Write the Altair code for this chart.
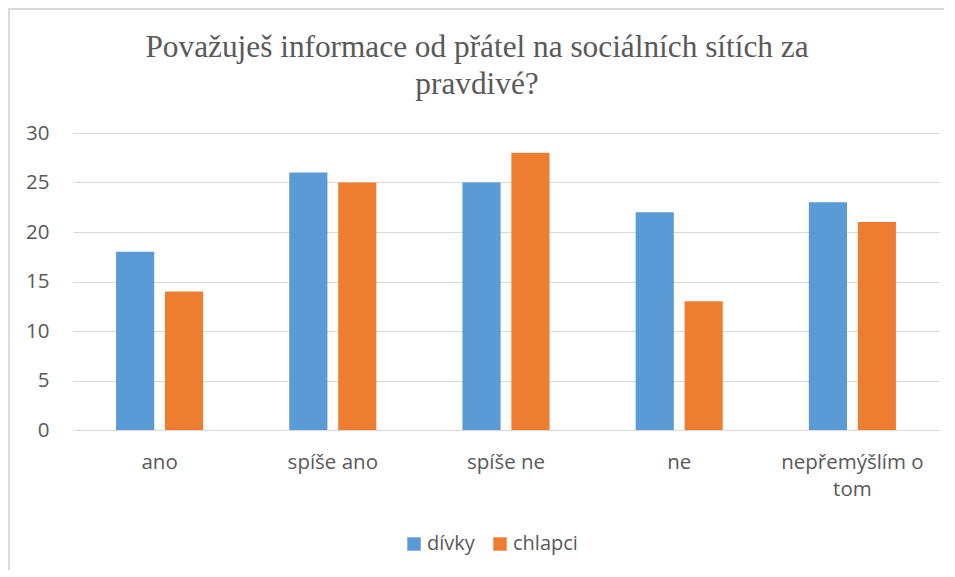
import altair as alt
import pandas as pd

categories = ["ano", "spíše ano", "spíše ne", "ne", "nepřemýšlím o tom"]
series = ["dívky", "chlapci"]
divky = [18, 26, 25, 22, 23]
chlapci = [14, 25, 28, 13, 21]
colors = ["#5B9BD5", "#ED7D31"]
y_ticks = [0, 5, 10, 15, 20, 25, 30]
title_lines = ["Považuješ informace od přátel na sociálních sítích za", "pravdivé?"]

rows = []
for c, d, ch in zip(categories, divky, chlapci):
    rows.append({"kategorie": c, "pohlaví": "dívky", "počet": d})
    rows.append({"kategorie": c, "pohlaví": "chlapci", "počet": ch})
df = pd.DataFrame(rows)

W, H = 866, 297
SANS = "Open Sans"
GRAY = "#595959"
GRID = "#D9D9D9"

bars = alt.Chart(df).mark_bar().encode(
    x=alt.X(
        "kategorie:N",
        sort=categories,
        scale=alt.Scale(paddingInner=0, paddingOuter=0),
        axis=alt.Axis(
            title=None,
            labelAngle=0,
            ticks=False,
            domain=False,
            grid=False,
            labelFont=SANS,
            labelFontSize=20.5,
            labelColor=GRAY,
            labelPadding=22,
            labelLineHeight=27,
            labelExpr="datum.value == 'nepřemýšlím o tom' ? ['nepřemýšlím o', 'tom'] : datum.value",
        ),
    ),
    xOffset=alt.XOffset(
        "pohlaví:N",
        sort=series,
        scale=alt.Scale(paddingInner=0.22, paddingOuter=0.88),
    ),
    y=alt.Y(
        "počet:Q",
        scale=alt.Scale(domain=[0, 30], nice=False),
        axis=alt.Axis(
            title=None,
            values=y_ticks,
            ticks=False,
            domain=False,
            grid=True,
            gridColor=GRID,
            gridWidth=1,
            labelFont=SANS,
            labelFontSize=20.5,
            labelColor=GRAY,
            labelPadding=24,
        ),
    ),
    color=alt.Color(
        "pohlaví:N",
        sort=series,
        scale=alt.Scale(domain=series, range=colors),
        legend=alt.Legend(
            title=None,
            orient="none",
            direction="horizontal",
            legendX=331,
            legendY=401,
            symbolType="square",
            symbolSize=180,
            symbolStrokeWidth=0,
            symbolOpacity=1,
            labelFont=SANS,
            labelFontSize=20,
            labelColor=GRAY,
            labelOffset=3,
            columnPadding=15,
            padding=0,
        ),
    ),
)

frame = alt.Chart(df).mark_rect(fill=None, stroke=GRID, strokeWidth=1.5).encode(
    x=alt.value(-64.5), x2=alt.value(W + 40), y=alt.value(-124.5), y2=alt.value(H + 200)
)

chart = alt.layer(frame, bars).properties(
    width=W,
    height=H,
    background="white",
    autosize=alt.AutoSizeParams(type="none"),
    padding={"left": 65, "top": 125, "right": 5, "bottom": 140},
    title=alt.TitleParams(
        title_lines,
        font="'Liberation Serif', 'Times New Roman', Times, serif",
        fontSize=31.3,
        fontWeight="normal",
        color=GRAY,
        anchor="middle",
        frame="group",
        dx=-29,
        dy=123,
        offset=30,
        lineHeight=37,
    ),
).configure_view(stroke=None)

chart.save("out.html", embed_options={"renderer": "svg", "actions": False})
